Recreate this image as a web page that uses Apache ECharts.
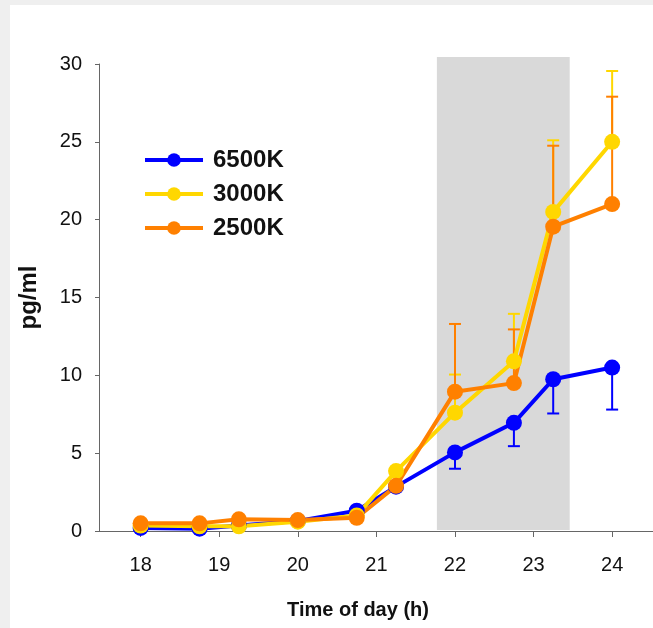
<!DOCTYPE html>
<html>
<head>
<meta charset="utf-8">
<script src="https://cdn.jsdelivr.net/npm/echarts@6/dist/echarts.min.js"></script>
<style>
  html, body { margin: 0; padding: 0; background: #efefef; }
  #chart { position: absolute; left: 10px; top: 5px; width: 643px; height: 623px; background: #fff; }
</style>
</head>
<body>
<div id="chart"></div>
<script>
// sampling times (h) and x tick labels
const hours = [18, 18.75, 19.25, 20, 20.75, 21.25, 22, 22.75, 23.25, 24];
const tickHours = [18, 19, 20, 21, 22, 23, 24];

// pg/ml per light condition
const k6500 = [0.2, 0.15, 0.35, 0.65, 1.3, 2.85, 5.05, 6.95, 9.75, 10.5];
const k3000 = [0.35, 0.3, 0.3, 0.6, 1.0, 3.85, 7.6, 10.9, 20.5, 25.0];
const k2500 = [0.49, 0.49, 0.75, 0.7, 0.85, 2.9, 8.95, 9.5, 19.55, 21.0];

// error bar ends (blue drawn downward, the others upward)
const k6500Low = [null, null, null, null, null, null, 4.0, 5.45, 7.55, 7.8];
const k3000High = [null, null, null, null, null, null, 10.05, 13.95, 25.1, 29.55];
const k2500High = [null, null, null, null, null, null, 13.3, 12.95, 24.75, 27.9];

// grey shaded period [start, end, top]
const shade = [21.77, 23.46, 30.45];

const BLUE = "#0000ff";
const YELLOW = "#ffd700";
const ORANGE = "#ff8000";
const AXIS = "#666";

var chart = echarts.init(document.getElementById("chart"));

const pairs = (vals) => hours.map((h, i) => [h, vals[i]]);

const errorSeries = (color, vals, ends) => ({
  type: "custom",
  z: 2,
  silent: true,
  clip: false,
  encode: { x: 0, y: [1, 2] },
  data: hours.map((h, i) => [h, vals[i], ends[i]]).filter((d) => d[2] != null),
  renderItem: function (params, api) {
    const p0 = api.coord([api.value(0), api.value(1)]);
    const p1 = api.coord([api.value(0), api.value(2)]);
    const half = 6;
    const style = { stroke: color, lineWidth: 2 };
    return {
      type: "group",
      children: [
        { type: "line", shape: { x1: p0[0], y1: p0[1], x2: p1[0], y2: p1[1] }, style: style },
        { type: "line", shape: { x1: p1[0] - half, y1: p1[1], x2: p1[0] + half, y2: p1[1] }, style: style },
      ],
    };
  },
});

const lineSeries = (name, color, vals) => ({
  name: name,
  type: "line",
  z: 3,
  data: pairs(vals),
  symbol: "circle",
  symbolSize: 16,
  lineStyle: { width: 4, color: color },
  itemStyle: { color: color },
  emphasis: { disabled: true },
});

var option = {
  animation: false,
  textStyle: { fontFamily: "Liberation Sans, Arial, sans-serif" },
  grid: { left: 89, top: 59, right: 0, bottom: 97, outerBoundsMode: "none" },
  legend: {
    data: ["6500K", "3000K", "2500K"],
    orient: "vertical",
    left: 128,
    top: 138,
    itemWidth: 58,
    itemHeight: 17,
    itemGap: 10,
    lineStyle: { width: 4 },
    textStyle: { fontSize: 24, fontWeight: "bold", color: "#111", padding: [0, 0, 0, 5] },
  },
  xAxis: {
    type: "value",
    min: 17.47,
    max: 24.52,
    name: "Time of day (h)",
    nameLocation: "middle",
    nameGap: 69,
    nameTextStyle: { fontSize: 20, fontWeight: "bold", color: "#111", padding: [0, 36, 0, 0] },
    axisLine: { show: true, onZero: false, lineStyle: { color: AXIS } },
    axisTick: { show: true, length: 6, customValues: tickHours, lineStyle: { color: AXIS } },
    axisLabel: { customValues: tickHours, fontSize: 20, color: "#111", margin: 24 },
    splitLine: { show: false },
  },
  yAxis: {
    type: "value",
    min: 0,
    max: 30,
    interval: 5,
    name: "pg/ml",
    nameLocation: "middle",
    nameGap: 58,
    nameTextStyle: { fontSize: 24, fontWeight: "bold", color: "#111" },
    axisLine: { show: true, onZero: false, lineStyle: { color: AXIS } },
    axisTick: { show: true, length: 4, lineStyle: { color: AXIS } },
    axisLabel: { fontSize: 20, color: "#111", margin: 17 },
    splitLine: { show: false },
  },
  series: [
    {
      type: "custom",
      z: 1,
      silent: true,
      clip: false,
      encode: { x: [0, 1], y: 2 },
      data: [shade],
      renderItem: function (params, api) {
        const a = api.coord([api.value(0), api.value(2)]);
        const b = api.coord([api.value(1), 0]);
        return {
          type: "rect",
          shape: { x: a[0], y: a[1], width: b[0] - a[0], height: b[1] - a[1] - 1 },
          style: { fill: "#d9d9d9" },
        };
      },
    },
    errorSeries(BLUE, k6500, k6500Low),
    errorSeries(YELLOW, k3000, k3000High),
    errorSeries(ORANGE, k2500, k2500High),
    lineSeries("6500K", BLUE, k6500),
    lineSeries("3000K", YELLOW, k3000),
    lineSeries("2500K", ORANGE, k2500),
  ],
};
option && chart.setOption(option);
</script>
</body>
</html>
